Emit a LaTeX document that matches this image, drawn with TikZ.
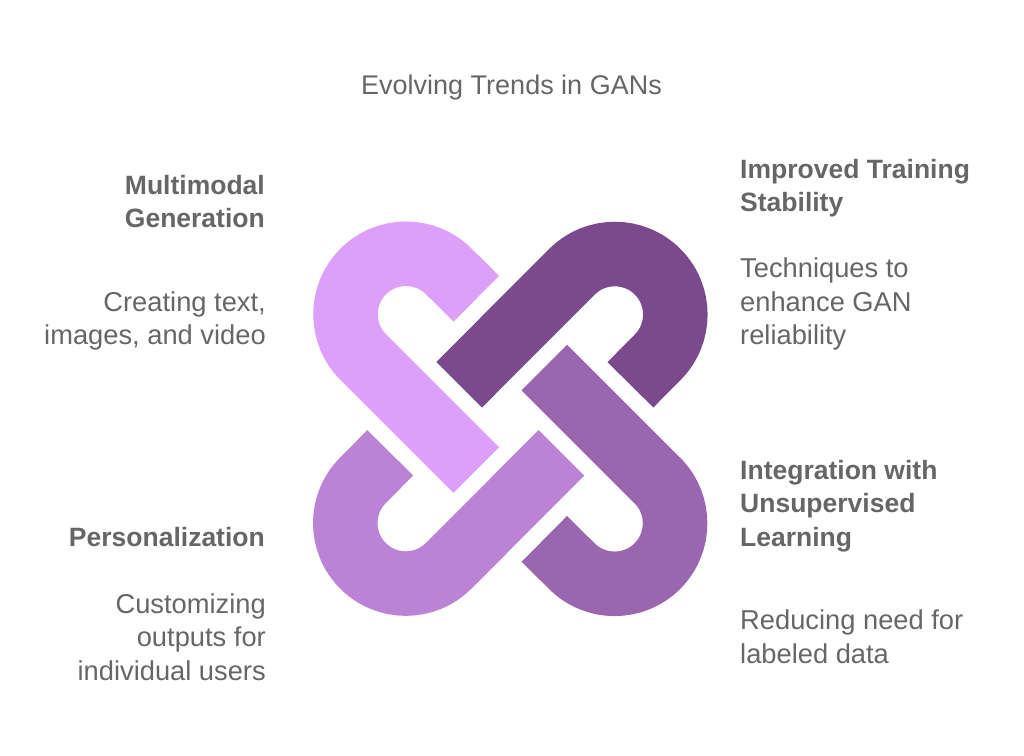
\documentclass[tikz,border=0pt]{standalone}
\usepackage{fontspec}
\setmainfont{Liberation Sans}
\definecolor{hooklight}{HTML}{DCA0FA}
\definecolor{hookdark}{HTML}{7A4A8C}
\definecolor{hookmid}{HTML}{9B66B0}
\definecolor{hooksoft}{HTML}{BB83D6}
\definecolor{inkgrey}{HTML}{666666}
\tikzset{
	hook/.style={line width=64.5pt},
	body/.style={inkgrey, inner sep=0pt, font=\fontsize{27.3}{33.5}\selectfont},
	head/.style={body, font=\fontsize{26.5}{33.5}\selectfont\bfseries},
}
\begin{document}
\begin{tikzpicture}[x=1pt, y=1pt]

	\useasboundingbox (0, 0) rectangle (1024, 755);

	\draw[hook, hooklight] (476.3, 456.3) -- (448.8, 483.5) arc[start angle=45, end angle=225, radius=60.5] -- (476.3, 285);
	\draw[hook, hookdark] (630.4, 370.2) -- (657.6, 397.7) arc[start angle=-45, end angle=135, radius=60.5] -- (459.1, 370.2);
	\draw[hook, hookmid] (544.3, 216.1) -- (571.8, 188.9) arc[start angle=-135, end angle=45, radius=60.5] -- (544.3, 387.4);
	\draw[hook, hooksoft] (390.2, 302.2) -- (363, 274.7) arc[start angle=135, end angle=315, radius=60.5] -- (561.5, 302.2);

	\node[body, anchor=base, font=\fontsize{27}{33.5}\selectfont] (title) at (511.5, 660) {Evolving Trends in GANs};

	\node[head, anchor=base east, align=right] (multimodal) at (265, 527) {Multimodal\\Generation};
	\node[body, anchor=base east, align=right] (multimodaltext) at (266, 410) {Creating text,\\images, and video};

	\node[head, anchor=base west, align=left] (stability) at (740, 543) {Improved Training\\Stability};
	\node[body, anchor=base west, align=left] (stabilitytext) at (740, 410) {Techniques to\\enhance GAN\\reliability};

	\node[head, anchor=base west, align=left] (unsupervised) at (740, 209) {Integration with\\Unsupervised\\Learning};
	\node[body, anchor=base west, align=left] (unsupervisedtext) at (740, 92) {Reducing need for\\labeled data};

	\node[head, anchor=base east, align=right] (personal) at (265, 209) {Personalization};
	\node[body, anchor=base east, align=right] (personaltext) at (266, 75) {Customizing\\outputs for\\individual users};

\end{tikzpicture}
\end{document}
